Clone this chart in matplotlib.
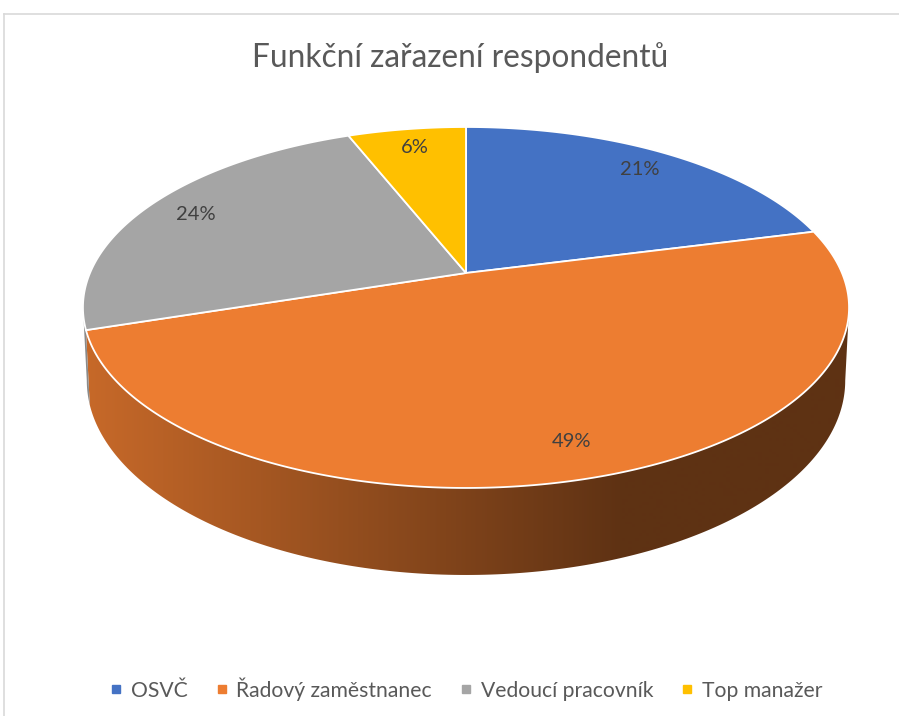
import numpy as np
import matplotlib.pyplot as plt
from matplotlib.patches import Polygon
from matplotlib.lines import Line2D

# data
labels = ['OSVČ', 'Řadový zaměstnanec', 'Vedoucí pracovník', 'Top manažer']
values = [21, 49, 24, 6]
colors = ['#4472C4', '#ED7D31', '#A5A5A5', '#FFC000']
title = 'Funkční zařazení respondentů'

plt.rcParams['font.family'] = ['Lato', 'DejaVu Sans']

# perspective pie geometry (pixels)
x0, y0 = 466, 273      # pie centre on the top face
a, b = 376, 173.9      # horizontal / vertical scale
c = -0.191             # perspective factor
H = 70.4               # thickness
k = 0.01               # shrink of the bottom face


def proj(phi, r=1.0, depth=0.0):
    X = r * np.sin(phi)
    Y = -r * np.cos(phi)
    w = 1 + c * Y
    u = x0 + a * X / w * (1 - k * depth)
    v = y0 + b * Y / w + H * depth / w
    return u, v


def shade(x):
    return np.clip(0.84 - (x - 85) * 0.00082, 0.40, 0.84)


fig = plt.figure(figsize=(8.99, 7.16), dpi=100)
ax = fig.add_axes([0, 0, 1, 1])

frac = np.array(values, dtype=float) / sum(values)
bounds = np.concatenate([[0], np.cumsum(frac)]) * 2 * np.pi

# visible part of the side wall
vis0 = np.arccos(c)
vis1 = 2 * np.pi - vis0

xs = np.arange(0, 900)
for i in range(len(values)):
    s, e = max(bounds[i], vis0), min(bounds[i + 1], vis1)
    if e <= s:
        continue
    t = np.linspace(s, e, 200)
    ut, vt = proj(t)
    ub, vb = proj(t[::-1], depth=1)
    poly = Polygon(np.column_stack([np.r_[ut, ub], np.r_[vt, vb]]),
                   closed=True, facecolor='none', edgecolor='none')
    ax.add_patch(poly)
    base = np.array(plt.matplotlib.colors.to_rgb(colors[i]))
    img = base[None, None, :] * shade(xs)[None, :, None]
    im = ax.imshow(img, extent=(0, 899, 716, 0), aspect='auto', zorder=1)
    im.set_clip_path(poly)

# top faces
for i in range(len(values)):
    t = np.linspace(bounds[i], bounds[i + 1], 300)
    u, v = proj(t)
    pts = np.column_stack([np.r_[x0, u], np.r_[y0, v]])
    ax.add_patch(Polygon(pts, closed=True, facecolor=colors[i],
                         edgecolor='white', linewidth=1.3, zorder=2))

# data labels
for i in range(len(values)):
    mid = (bounds[i] + bounds[i + 1]) / 2
    u, v = proj(mid, r=0.85)
    ax.text(u, v, f'{values[i]}%', ha='center', va='center',
            fontsize=14.5, color='#404040', zorder=3)

ax.text(460, 58, title, ha='center', va='center', fontsize=22.8, color='#595959')

# chart border
ax.plot([4, 4], [716, 14], color='#D9D9D9', lw=1.2)
ax.plot([4, 899], [14, 14], color='#D9D9D9', lw=1.2)

ax.set_xlim(0, 899)
ax.set_ylim(716, 0)
ax.axis('off')

handles = [Line2D([], [], marker='s', linestyle='none', markersize=6,
                  markerfacecolor=col, markeredgecolor=col) for col in colors]
leg = fig.legend(handles, labels, loc='center', bbox_to_anchor=(466 / 899, 1 - 689 / 716),
                 ncol=4, frameon=False, fontsize=15.2, handlelength=0.6,
                 handletextpad=0.4, columnspacing=1.3, labelcolor='#595959')

fig.savefig('out.png', dpi=100)
